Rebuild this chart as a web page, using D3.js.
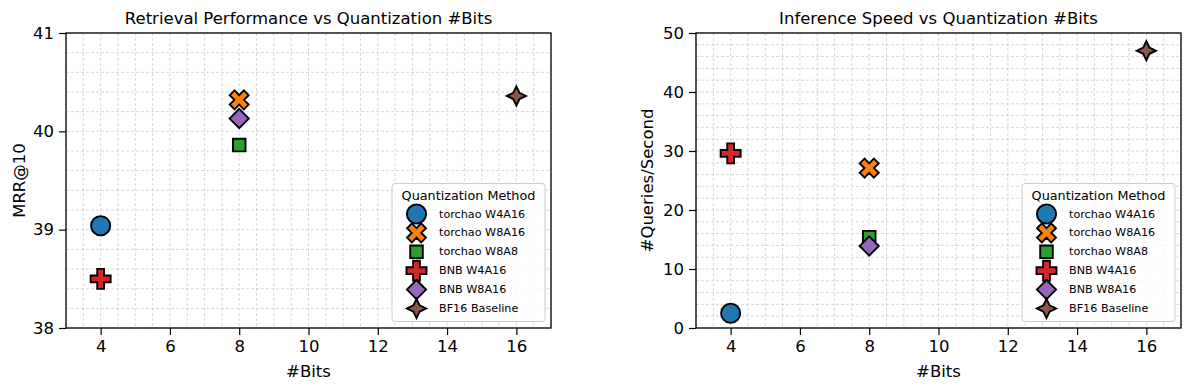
<!DOCTYPE html>
<html><head><meta charset="utf-8">
<script src="https://cdn.jsdelivr.net/npm/d3@7"></script>
<style>body{margin:0;background:#fff} svg{display:block} text{font-family:"DejaVu Sans",sans-serif;fill:#000}</style>
</head><body><svg id="c" width="1191" height="391"></svg>
<script>
const methods = ["torchao W4A16","torchao W8A16","torchao W8A8","BNB W4A16","BNB W8A16","BF16 Baseline"];
const bits = [4,8,8,4,8,16];
const mrr = [39.04,40.32,39.86,38.50,40.13,40.36];
const qps = [2.5,27.1,15.4,29.6,13.9,47.0];
const colors = ["#1f77b4","#ff7f0e","#2ca02c","#d62728","#9467bd","#8c564b"];
const shapes = ["circle","x","square","plus","diamond","star"];
const xTicks = [4,6,8,10,12,14,16];
const leftYTicks = [38,39,40,41];
const rightYTicks = [0,10,20,30,40,50];

function markerPath(shape){
  const p = d3.path();
  if(shape==="circle"){ p.arc(0,0,9.6,0,2*Math.PI); p.closePath(); return p.toString(); }
  if(shape==="square"){ const h=6.3; p.rect(-h,-h,2*h,2*h); return p.toString(); }
  if(shape==="diamond"){ const h=9.6; p.moveTo(0,-h);p.lineTo(h,0);p.lineTo(0,h);p.lineTo(-h,0);p.closePath(); return p.toString(); }
  if(shape==="star"){ const R=9.6, r=4.4; for(let k=0;k<8;k++){const a=k*Math.PI/4 - Math.PI/2; const rr=k%2?r:R; const x=rr*Math.cos(a), y=rr*Math.sin(a); k?p.lineTo(x,y):p.moveTo(x,y);} p.closePath(); return p.toString(); }
  const a=10, b=3.4;
  let pts=[[-b,-a],[b,-a],[b,-b],[a,-b],[a,b],[b,b],[b,a],[-b,a],[-b,b],[-a,b],[-a,-b],[-b,-b]];
  if(shape==="x"){ const c=Math.SQRT1_2; pts=pts.map(([x,y])=>[(x-y)*c,(x+y)*c]); }
  pts.forEach(([x,y],k)=>k?p.lineTo(x,y):p.moveTo(x,y)); p.closePath(); return p.toString();
}

const svg = d3.select("#c");
const panels = [
  {left:66,right:551,top:33,bottom:328,yDomain:[38,41],yTicks:leftYTicks,yMinor:0.2,values:mrr,
   title:"Retrieval Performance vs Quantization #Bits",ylabel:"MRR@10",ylabelX:19},
  {left:696,right:1181,top:33,bottom:328,yDomain:[0,50],yTicks:rightYTicks,yMinor:2,values:qps,
   title:"Inference Speed vs Quantization #Bits",ylabel:"#Queries/Second",ylabelX:647.5}
];

panels.forEach(P=>{
  const x = d3.scaleLinear().domain([3,17]).range([P.left,P.right]);
  const y = d3.scaleLinear().domain(P.yDomain).range([P.bottom,P.top]);
  const g = svg.append("g");
  const xMinor = d3.range(3,17.001,0.5);
  const nY = Math.round((P.yDomain[1]-P.yDomain[0])/P.yMinor);
  const yMinor = d3.range(0,nY+1).map(i=>P.yDomain[0]+i*P.yMinor);
  // grid
  g.append("g").selectAll("line").data(xMinor).join("line")
    .attr("x1",d=>x(d)).attr("x2",d=>x(d)).attr("y1",P.top).attr("y2",P.bottom)
    .attr("stroke","#bdbdbd").attr("stroke-width",0.6).attr("stroke-dasharray","3,2");
  g.append("g").selectAll("line").data(yMinor).join("line")
    .attr("y1",d=>y(d)).attr("y2",d=>y(d)).attr("x1",P.left).attr("x2",P.right)
    .attr("stroke","#bdbdbd").attr("stroke-width",0.6).attr("stroke-dasharray","3,2");
  // axes
  const xAx = g.append("g").attr("transform",`translate(0,${P.bottom})`);
  xAx.call(d3.axisBottom(x).tickValues(xMinor).tickSize(4).tickFormat(""));
  xAx.call(d3.axisBottom(x).tickValues(xTicks).tickSize(7).tickPadding(5).tickFormat(d3.format("d")));
  const yAx = g.append("g").attr("transform",`translate(${P.left},0)`);
  yAx.call(d3.axisLeft(y).tickValues(yMinor).tickSize(4).tickFormat(""));
  yAx.call(d3.axisLeft(y).tickValues(P.yTicks).tickSize(7).tickPadding(5).tickFormat(d3.format("d")));
  g.selectAll(".domain").remove();
  g.selectAll(".tick line").attr("stroke","#000").attr("stroke-width",1.2);
  g.selectAll(".tick text").attr("font-size",16.5).attr("font-family","DejaVu Sans").attr("fill","#000");
  // markers
  g.append("g").selectAll("path").data(methods).join("path")
    .attr("d",(d,i)=>markerPath(shapes[i]))
    .attr("transform",(d,i)=>`translate(${x(bits[i])},${y(P.values[i])})`)
    .attr("fill",(d,i)=>colors[i]).attr("stroke","#000").attr("stroke-width",1.9).attr("stroke-linejoin","miter");
  // frame
  g.append("rect").attr("x",P.left).attr("y",P.top).attr("width",P.right-P.left).attr("height",P.bottom-P.top)
    .attr("fill","none").attr("stroke","#000").attr("stroke-width",1.3);
  // labels
  g.append("text").attr("x",(P.left+P.right)/2).attr("y",24).attr("text-anchor","middle").attr("font-size",16.5).text(P.title);
  g.append("text").attr("x",(P.left+P.right)/2).attr("y",377).attr("text-anchor","middle").attr("font-size",16.5).text("#Bits");
  g.append("text").attr("transform",`translate(${P.ylabelX},${(P.top+P.bottom)/2}) rotate(-90)`)
    .attr("text-anchor","middle").attr("dominant-baseline","central").attr("font-size",16.5).text(P.ylabel);
  // legend
  const bw=153, bh=138, bx=P.right-6-bw, by=P.bottom-6.5-bh;
  const L = g.append("g");
  L.append("rect").attr("x",bx).attr("y",by).attr("width",bw).attr("height",bh).attr("rx",3)
    .attr("fill","#fff").attr("fill-opacity",0.8).attr("stroke","#cccccc").attr("stroke-width",1);
  L.append("text").attr("x",bx+bw/2).attr("y",by+16.5).attr("text-anchor","middle").attr("font-size",12.8).text("Quantization Method");
  const items = L.selectAll("g.it").data(methods).join("g").attr("class","it")
    .attr("transform",(d,i)=>`translate(${bx},${by+30.5+i*18.9})`);
  items.append("path").attr("d",(d,i)=>markerPath(shapes[i])).attr("transform","translate(24.5,0)")
    .attr("fill",(d,i)=>colors[i]).attr("stroke","#000").attr("stroke-width",1.9);
  items.append("text").attr("x",47).attr("dominant-baseline","central").attr("font-size",11.2).text(d=>d);
});
</script></body></html>
